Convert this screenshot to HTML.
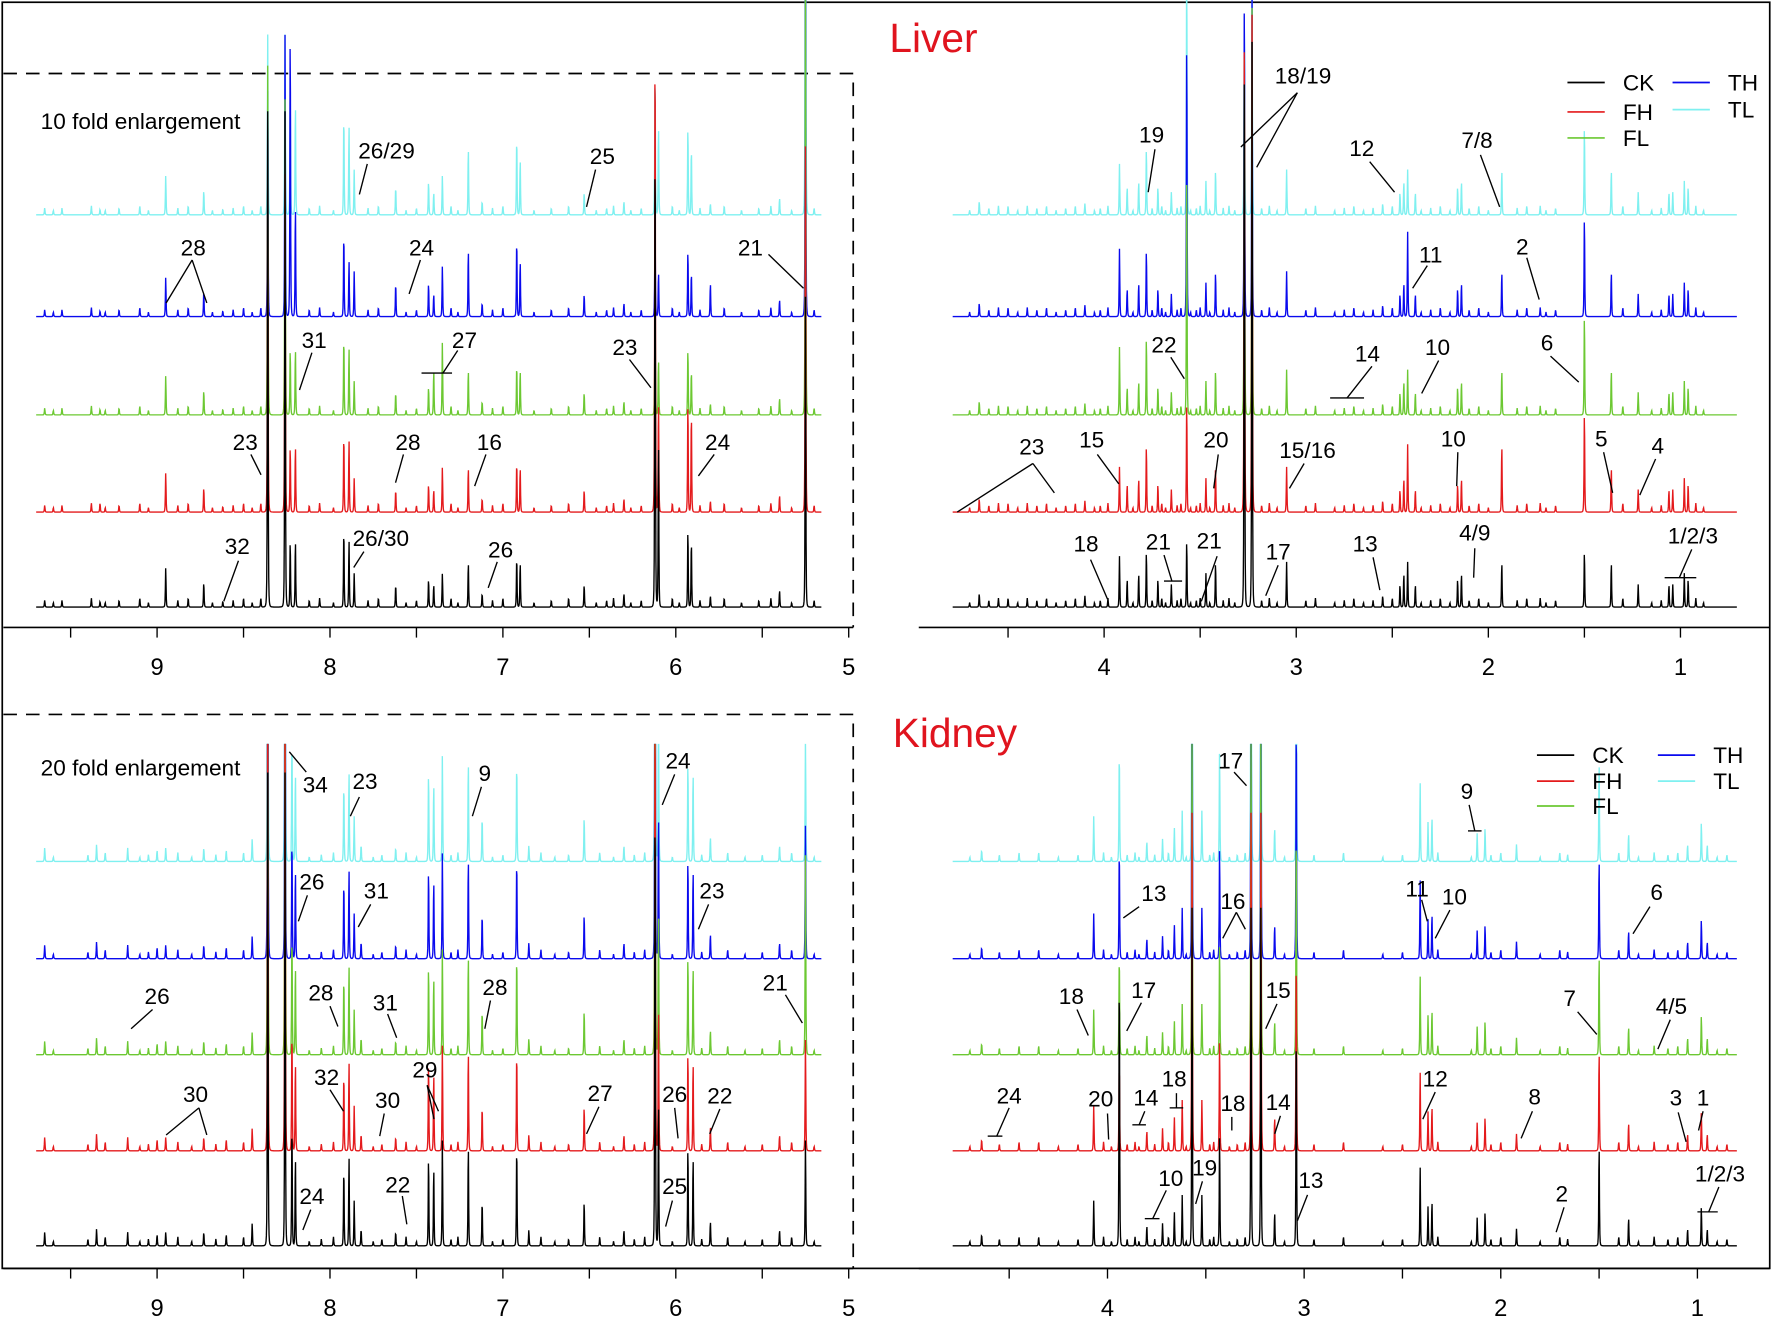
<!DOCTYPE html>
<html><head><meta charset="utf-8">
<style>
html,body{margin:0;padding:0;background:#fff;}
svg{display:block;}
text{font-family:"Liberation Sans Narrow","Liberation Sans",sans-serif;}
</style></head>
<body>
<svg id="chart" width="1772" height="1317" viewBox="0 0 1568 1165" preserveAspectRatio="none" xmlns="http://www.w3.org/2000/svg">
<defs>
<clipPath id="clipTop"><rect x="3" y="0" width="1563" height="555"/></clipPath>
<clipPath id="clipBot"><rect x="3" y="658" width="1563" height="464"/></clipPath>
</defs>
<rect x="2" y="2" width="1564" height="1120" fill="none" stroke="#000" stroke-width="1.5"/>
<g id="axes"></g>
<g id="spectra"></g>
<g id="annos" stroke="#000" stroke-width="1.2" fill="#000"></g>
<text x="826" y="46" font-size="36" fill="#e0141e" text-anchor="middle">Liver</text>
<text x="845" y="661" font-size="36" fill="#e0141e" text-anchor="middle">Kidney</text>
<text x="36" y="114" font-size="20">10 fold enlargement</text>
<text x="36" y="686" font-size="20">20 fold enlargement</text>
<g id="legends"></g>
</svg>
<script>
const NS="http://www.w3.org/2000/svg";
const seriesNames=["CK","FH","FL","TH","TL"];
const seriesColors=["#000000","#e41a1c","#6cc832","#0a0aee","#7ff0f0"];

// Liver, aromatic region
const liverLeftPpm=[9.65,9.33,8.95,8.73,8.62,8.40,8.36,8.26,8.23,8.20,7.92,7.89,7.86,7.62,7.43,7.40,7.35,7.20,7.12,6.92,6.90,6.53,6.30,6.12,6.10,5.93,5.91,5.80,5.40,5.25];
const liverLeftH={
CK:[6,5,35,22,5,8,440,440,60,60,70,60,30,20,25,20,30,40,12,45,40,20,12,440,150,70,60,10,15,280],
FH:[6,8,35,22,5,8,330,300,60,60,70,65,30,20,25,20,40,40,12,45,40,20,12,440,100,100,90,10,15,330],
FL:[6,5,35,22,5,8,310,280,60,60,70,60,30,20,25,40,65,40,12,45,40,20,12,100,50,60,40,10,15,400],
TH:[6,5,35,22,5,8,200,250,260,100,75,50,40,30,30,20,45,60,12,70,50,20,12,80,40,60,40,30,15,360],
TL:[6,5,35,22,5,8,160,160,110,100,90,80,40,25,30,20,35,60,12,70,50,20,12,130,80,80,60,10,15,450]};
const liverLeftMinor=[9.6,9.55,9.38,9.30,9.22,9.1,9.05,8.88,8.82,8.68,8.56,8.5,8.45,8.12,8.06,7.98,7.78,7.72,7.56,7.5,7.3,7.26,7.06,7.0,6.82,6.72,6.62,6.46,6.4,6.36,6.26,6.2,6.02,5.98,5.86,5.72,5.62,5.52,5.45,5.33,5.2];
// Liver, aliphatic region
const liverRightPpm=[4.65,4.55,4.40,4.10,3.92,3.88,3.82,3.78,3.72,3.65,3.57,3.47,3.42,3.27,3.23,3.05,2.55,2.46,2.44,2.42,2.38,2.16,2.14,1.93,1.73,1.50,1.36,1.22,1.06,1.04,0.98,0.96];
const liverRightH={
CK:[12,8,8,10,45,25,30,50,25,20,60,30,40,500,500,40,10,20,30,40,20,25,30,40,8,50,40,20,20,20,30,25],
FH:[12,8,8,10,40,25,30,60,25,20,100,30,40,440,440,40,10,20,30,60,20,25,30,60,8,90,40,20,20,20,30,25],
FL:[12,8,8,10,60,25,30,70,25,20,220,30,40,340,360,40,10,20,30,40,20,25,30,40,8,90,40,20,20,20,30,25],
TH:[12,8,8,10,60,25,30,60,25,20,250,30,40,290,290,40,10,20,30,75,20,25,30,40,8,90,40,20,20,20,30,25],
TL:[12,8,8,10,45,25,30,60,25,20,230,30,40,190,200,40,10,20,30,40,20,25,30,40,8,80,40,20,20,20,30,25]};
const liverRightMinor=[4.7,4.6,4.5,4.45,4.35,4.3,4.25,4.2,4.15,4.05,4.02,3.98,3.85,3.75,3.7,3.68,3.62,3.6,3.55,3.52,3.5,3.45,3.38,3.35,3.32,3.18,3.14,3.1,2.95,2.9,2.8,2.75,2.7,2.65,2.6,2.5,2.35,2.3,2.25,2.2,2.1,2.05,2.0,1.85,1.8,1.7,1.65,1.3,1.15,1.1,0.92,0.88];
// Kidney, aromatic region
const kidneyLeftPpm=[9.65,9.35,9.17,9.00,8.95,8.73,8.60,8.45,8.36,8.26,8.22,8.20,7.92,7.89,7.86,7.82,7.62,7.43,7.40,7.35,7.20,7.12,6.92,6.85,6.53,6.30,6.12,6.10,5.93,5.90,5.80,5.40,5.25];
const kidneyLeftH={
CK:[12,15,12,10,12,12,10,20,420,420,110,80,70,80,40,15,12,80,70,95,90,40,90,14,40,14,420,130,90,80,22,14,95],
FH:[12,15,12,10,12,12,10,20,420,420,110,80,70,80,40,15,12,80,70,95,90,40,90,14,40,14,420,130,90,80,22,14,100],
FL:[12,15,12,10,12,12,10,20,420,420,110,80,70,80,40,15,12,80,70,95,90,40,90,14,40,14,420,130,90,80,22,14,180],
TH:[12,15,12,10,12,12,10,20,420,420,110,80,70,80,40,15,12,80,70,95,90,40,90,14,40,14,420,130,90,80,22,14,120],
TL:[12,15,12,10,12,12,10,20,420,420,110,80,70,80,40,15,12,80,70,95,90,40,90,14,40,14,420,130,90,80,22,14,110]};
const kidneyLeftMinor=[9.6,9.4,9.3,9.1,9.05,8.88,8.8,8.66,8.5,8.12,8.05,7.98,7.75,7.7,7.56,7.5,7.3,7.26,7.06,7.0,6.78,6.7,6.62,6.44,6.36,6.24,6.18,6.02,5.85,5.7,5.6,5.5,5.33,5.2];
// Kidney, aliphatic region
const kidneyRightPpm=[4.64,4.45,4.07,3.94,3.80,3.72,3.66,3.62,3.57,3.52,3.43,3.27,3.22,3.15,3.04,2.41,2.37,2.35,2.12,2.08,1.92,1.70,1.50,1.35,1.22,1.05,0.98,0.95];
const kidneyRightH={
CK:[10,8,40,250,18,20,30,45,300,45,100,300,300,30,200,70,35,40,25,30,15,8,90,25,8,15,35,15],
FH:[10,8,40,80,18,20,30,45,300,45,100,300,300,30,180,70,35,40,25,30,15,8,90,25,8,15,35,15],
FL:[10,8,40,90,18,20,30,45,300,45,100,300,300,30,210,70,35,40,25,30,15,8,90,25,8,15,35,15],
TH:[10,8,40,100,18,20,30,45,300,45,100,300,300,30,220,70,35,40,25,30,15,8,90,25,8,15,35,15],
TL:[10,8,40,100,18,20,30,45,300,45,100,300,300,30,220,70,35,40,25,30,15,8,90,25,8,15,35,15]};
const kidneyRightMinor=[4.7,4.55,4.35,4.25,4.15,4.02,3.98,3.9,3.86,3.84,3.76,3.69,3.6,3.48,3.46,3.38,3.34,3.3,3.1,2.95,2.8,2.6,2.5,2.32,2.15,2.05,2.0,1.8,1.66,1.4,1.3,1.15,1.1,0.9,0.85];

const liverBase=[537,453,367,280,190];
const kidneyBase=[1102,1018,933,848,762];
const topLeftTicks=[9,8,7,6,5];
const topRightTicks=[4,3,2,1];

function mkX(x0,ppm0,pxPerPpm){return p=>x0-(p-ppm0)*pxPerPpm;}
const xTL=mkX(139,9,153), xTR=mkX(977,4,170), xBL=mkX(139,9,153), xBR=mkX(980,4,174);

function el(tag,attrs,parent){const e=document.createElementNS(NS,tag);for(const k in attrs)e.setAttribute(k,attrs[k]);parent.appendChild(e);return e;}

const axes=document.getElementById('axes');
function drawAxis(xf,xa,xb,y,ticks,name){
  const l=el('line',{x1:xa,x2:xb,y1:y,y2:y,stroke:'#000','stroke-width':1.5},axes);
  
  
  ticks.forEach(t=>{
    el('line',{x1:xf(t),x2:xf(t),y1:y,y2:y+9,stroke:'#000','stroke-width':1.2},axes);
    if(xf(t+0.5)>xa&&xf(t+0.5)<xb) el('line',{x1:xf(t+0.5),x2:xf(t+0.5),y1:y,y2:y+9,stroke:'#000','stroke-width':1.2},axes);
    const tx=el('text',{x:xf(t),y:y+42,'font-size':21,'text-anchor':'middle'},axes);
    tx.textContent=t;
    
    
  });
}
drawAxis(xTL,3,755,555,topLeftTicks,'liver-left');
drawAxis(xTR,813,1566,555,topRightTicks,'liver-right');
drawAxis(xBL,3,755,1122,topLeftTicks,'kidney-left');
drawAxis(xBR,813,1566,1122,topRightTicks,'kidney-right');
el('path',{d:'M3 65 H755 V555',fill:'none',stroke:'#000','stroke-width':1.5,'stroke-dasharray':'12 8'},axes);
el('path',{d:'M3 632 H755 V1122',fill:'none',stroke:'#000','stroke-width':1.5,'stroke-dasharray':'12 8'},axes);

const spectra=document.getElementById('spectra');
function drawRegion(xf,xa,xb,ppms,H,minor,bases,clip,name){
  const g=el('g',{'clip-path':'url(#'+clip+')'},spectra);
  const pxs=ppms.map(p=>xf(p));
  const mpx=minor.map(p=>xf(p));
  [4,3,2,1,0].forEach(si=>{
    const hs=H[seriesNames[si]];
    let d='';
    for(let x=xa;x<=xb;x+=0.3){
      let s=0;
      for(let i=0;i<pxs.length;i++){const u=(x-pxs[i])/0.5;const q=1/(1+u*u);s+=hs[i]*q*q;}
      for(let i=0;i<mpx.length;i++){const u=(x-mpx[i])/0.5;const q=1/(1+u*u);s+=(4+(i%3)*2)*q*q;}
      d+=(d?'L':'M')+x.toFixed(2)+' '+(bases[si]-s).toFixed(1);
    }
    const p=el('path',{d:d,fill:'none',stroke:seriesColors[si],'stroke-width':1.2},g);
    
    
  });
}
drawRegion(xTL,32,727,liverLeftPpm,liverLeftH,liverLeftMinor,liverBase,'clipTop','liver-aromatic');
drawRegion(xTR,843,1537,liverRightPpm,liverRightH,liverRightMinor,liverBase,'clipTop','liver-aliphatic');
drawRegion(xBL,32,727,kidneyLeftPpm,kidneyLeftH,kidneyLeftMinor,kidneyBase,'clipBot','kidney-aromatic');
drawRegion(xBR,843,1537,kidneyRightPpm,kidneyRightH,kidneyRightMinor,kidneyBase,'clipBot','kidney-aliphatic');

const annos=[
["26/29",342,140,[[325,145,318,172]]],["25",533,145,[[527,150,519,183]]],
["28",171,226,[[170,230,147,268],[170,230,183,268]]],["24",373,226,[[372,230,362,260]]],["21",664,226,[[680,225,711,255]]],
["31",278,308,[[276,312,265,345]]],["27",411,308,[[405,310,392,330],[373,330,400,330]]],["23",553,314,[[557,318,576,343]]],
["23",217,398,[[222,402,231,420]]],["28",361,398,[[357,402,350,427]]],["16",433,398,[[430,402,420,430]]],["24",635,398,[[632,402,618,421]]],
["32",210,490,[[211,496,198,532]]],["26/30",337,483,[[322,488,313,502]]],["26",443,493,[[440,497,432,520]]],
["18/19",1153,74,[[1148,82,1098,130],[1148,82,1112,148]]],["19",1019,126,[[1022,132,1016,170]]],["12",1205,138,[[1212,143,1234,170]]],["7/8",1307,131,[[1310,137,1327,183]]],
["11",1266,232,[[1263,235,1250,255]]],["2",1347,225,[[1351,228,1362,265]]],
["22",1030,312,[[1036,316,1048,335]]],["14",1210,320,[[1214,324,1192,352],[1177,352,1207,352]]],["10",1272,314,[[1273,319,1258,348]]],["6",1369,310,[[1372,315,1397,338]]],
["23",913,402,[[914,410,847,453],[914,410,933,436]]],["15",966,396,[[971,402,990,428]]],["20",1076,396,[[1078,402,1074,432]]],["15/16",1157,405,[[1154,410,1141,432]]],["10",1286,395,[[1290,400,1289,430]]],["5",1417,395,[[1419,400,1427,436]]],["4",1467,401,[[1465,406,1451,438]]],
["18",961,488,[[965,495,980,530]]],["21",1025,486,[[1030,491,1037,514],[1030,514,1046,514]]],["21",1070,485,[[1077,492,1063,532]]],["17",1131,495,[[1131,500,1120,527]]],["13",1208,488,[[1215,493,1221,522]]],["4/9",1305,478,[[1305,485,1304,511]]],["1/2/3",1498,481,[[1497,486,1486,511],[1473,511,1501,511]]],
["34",279,701,[[256,665,271,683]]],["23",323,698,[[318,705,310,722]]],["9",429,691,[[426,696,418,722]]],["24",600,680,[[597,685,586,712]]],
["26",276,787,[[272,792,264,815]]],["31",333,795,[[328,800,317,820]]],["23",630,795,[[627,800,618,822]]],
["26",139,888,[[135,893,116,910]]],["28",284,885,[[292,890,299,908]]],["31",341,894,[[343,897,351,918]]],["28",438,880,[[434,885,429,910]]],["21",686,876,[[695,880,710,905]]],
["30",173,975,[[176,980,147,1004],[176,980,183,1004]]],["32",289,960,[[292,964,304,983]]],["30",343,980,[[340,985,336,1005]]],["29",376,953,[[378,960,388,983],[378,960,384,990]]],["27",531,974,[[530,979,519,1003]]],["26",597,975,[[597,980,600,1007]]],["22",637,976,[[637,981,628,1003]]],
["24",276,1065,[[275,1070,268,1088]]],["22",352,1055,[[356,1058,360,1083]]],["25",597,1056,[[595,1062,589,1085]]],
["17",1089,680,[[1092,683,1103,695]]],["9",1298,707,[[1300,712,1305,735],[1299,735,1311,735]]],
["13",1021,797,[[1008,802,994,812]]],["16",1091,804,[[1094,807,1082,830],[1094,807,1102,822]]],["11",1254,793,[[1258,796,1263,815]]],["10",1287,800,[[1283,805,1270,830]]],["6",1466,796,[[1460,802,1445,826]]],
["18",948,888,[[953,893,963,916]]],["17",1012,883,[[1010,887,997,912]]],["15",1131,883,[[1130,888,1120,910]]],["7",1389,890,[[1396,895,1413,915]]],["4/5",1479,897,[[1478,902,1467,928]]],
["24",893,976,[[893,980,882,1005],[874,1005,887,1005]]],["20",974,979,[[980,985,981,1008]]],["14",1014,978,[[1013,983,1008,995],[1002,995,1014,995]]],["18",1039,961,[[1041,967,1041,980],[1035,980,1047,980]]],["18",1091,983,[[1090,988,1090,1000]]],["14",1131,982,[[1133,987,1128,1003]]],["12",1270,961,[[1270,966,1259,990]]],["8",1358,977,[[1356,983,1346,1007]]],["3",1483,978,[[1485,984,1492,1010]]],["1",1507,978,[[1507,983,1503,1000]]],
["10",1036,1049,[[1032,1053,1020,1078],[1013,1078,1026,1078]]],["19",1066,1040,[[1064,1045,1058,1065]]],["13",1160,1051,[[1157,1057,1148,1080]]],["2",1382,1063,[[1384,1068,1377,1090]]],["1/2/3",1522,1045,[[1521,1050,1512,1072],[1502,1072,1520,1072]]]
];
const ag=document.getElementById('annos');
annos.forEach(a=>{
  const t=el('text',{x:a[1],y:a[2],'font-size':20,'text-anchor':'middle',stroke:'none'},ag);
  t.textContent=a[0];
  
  
  a[3].forEach(s=>{
    const l=el('line',{x1:s[0],y1:s[1],x2:s[2],y2:s[3]},ag);
    
    
  });
});

const lg=document.getElementById('legends');
function legend(rows,name){
  rows.forEach(r=>{
    const [si,x,y]=r;
    el('line',{x1:x,x2:x+33,y1:y,y2:y,stroke:seriesColors[si],'stroke-width':1.5},lg);
    const t=el('text',{x:x+49,y:y+7,'font-size':20},lg);
    t.textContent=seriesNames[si];
    
    
  });
}
legend([[0,1387,73],[1,1387,99],[2,1387,122],[3,1480,73],[4,1480,97]],'liver-legend');
legend([[0,1360,668],[1,1360,691],[2,1360,713],[3,1467,668],[4,1467,691]],'kidney-legend');
</script>
</body></html>
